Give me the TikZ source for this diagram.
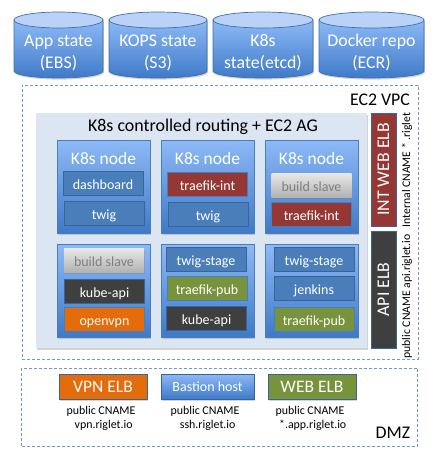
\documentclass[tikz,border=0pt]{standalone}
\usepackage{fontspec}
\setmainfont{Carlito}
\usetikzlibrary{shadows}

\definecolor{cylTop}{HTML}{8DB9F6}
\definecolor{cylBot}{HTML}{3F7AC8}
\definecolor{cylEnd}{HTML}{BAD2F7}
\definecolor{cylEdge}{HTML}{3F6FA8}
\definecolor{dashEdge}{HTML}{6C9BD0}
\definecolor{panelFill}{HTML}{DCE6F2}
\definecolor{blueFill}{HTML}{4A7EBB}
\definecolor{blueEdge}{HTML}{386497}
\definecolor{darkFill}{HTML}{3F3F3F}
\definecolor{redFill}{HTML}{953735}
\definecolor{orangeFill}{HTML}{E46C0A}
\definecolor{greenFill}{HTML}{77933C}

\tikzset{
	softshadow/.style={drop shadow={shadow xshift=0.8pt,shadow yshift=-1.6pt,opacity=0.35}},
	storecyl/.style={draw=cylEdge, line width=0.7pt, top color=cylTop, bottom color=cylBot, softshadow},
	storeend/.style={draw=cylEdge, line width=0.7pt, fill=cylEnd},
	storetext/.style={text=white, font=\fontsize{17.8}{22}\selectfont, align=center},
	zonebox/.style={draw=dashEdge, dash pattern=on 3pt off 2pt, line width=1pt, minimum width=396pt},
	k8sbox/.style={draw=blueFill, line width=0.7pt, minimum width=93pt, minimum height=93pt, top color=cylTop, bottom color=cylBot, softshadow},
	k8stitle/.style={text=white, font=\fontsize{17.5}{20}\selectfont},
	pod/.style={minimum width=80pt, minimum height=24pt, inner sep=0pt, text height=12pt, text depth=0pt, text=white, font=\fontsize{14}{16}\selectfont, line width=0.7pt},
	bluepod/.style={pod, draw=blueEdge, fill=blueFill},
	darkpod/.style={pod, draw=blueEdge, fill=darkFill},
	redpod/.style={pod, draw=blueFill, fill=redFill},
	greenpod/.style={pod, draw=blueFill, fill=greenFill},
	orangepod/.style={pod, draw=blueFill, fill=orangeFill},
	greypod/.style={pod, top color=gray!18, bottom color=gray!60, text=gray, softshadow},
	elbbar/.style={draw=blueEdge, line width=0.7pt, minimum width=113pt, minimum height=25pt, inner sep=0pt, text=white, rotate=90, font=\fontsize{17.8}{20}\selectfont},
	dmzbox/.style={draw=blueEdge, line width=0.7pt, minimum width=88pt, minimum height=25pt, inner sep=0pt, text=white, softshadow, font=\fontsize{17.5}{20}\selectfont},
	cname/.style={font=\fontsize{11.9}{14}\selectfont, align=center, inner sep=0pt},
	sidecname/.style={font=\fontsize{11.7}{13}\selectfont, rotate=90, inner sep=0pt},
	zonetitle/.style={font=\fontsize{17.8}{19}\selectfont, inner sep=0pt}
}

\begin{document}
\begin{tikzpicture}[x=1pt,y=-1pt]
	\useasboundingbox (0,0) rectangle (439,464);

	% storage on top
	\foreach \xa/\xb/\rad in {14/103/44.5,109/207/49,213/313/50,319/424/52.5} {
		\draw[storecyl] (\xa,20) -- (\xa,71) arc[start angle=180, end angle=360, x radius=\rad pt, y radius=7pt] -- (\xb,20) -- cycle;
		\draw[storeend] (\xa,20) arc[start angle=180, end angle=-180, x radius=\rad pt, y radius=8pt];
	}
	\node[storetext] (appT)    at (58.5,53)  {App state\\(EBS)};
	\node[storetext] (kopsT)   at (158,53)   {KOPS state\\(S3)};
	\node[storetext] (etcdT)   at (263,53)   {K8s\\state(etcd)};
	\node[storetext] (dockerT) at (371.5,53) {Docker repo\\(ECR)};

	% vpc
	\node[zonebox, minimum height=274pt] (vpc) at (220,222) {};
	\node[zonetitle] (vpcT) at (380,100) {EC2 VPC};
	\node[fill=panelFill, minimum width=331pt, minimum height=235pt, softshadow] (panel) at (201.5,230.5) {};
	\node[font=\fontsize{17.9}{20}\selectfont, inner sep=0pt] (panelT) at (203,127) {K8s controlled routing + EC2 AG};

	% upper row
	\node[k8sbox] (nodeA) at (103.5,186.5) {};
	\node[k8stitle] (nodeAT) at (103.5,158) {K8s node};
	\node[bluepod] (dash)  at (103,183) {dashboard};
	\node[bluepod] (twigA) at (104,213) {twig};

	\node[k8sbox] (nodeB) at (207.5,186.5) {};
	\node[k8stitle] (nodeBT) at (207.5,158) {K8s node};
	\node[redpod]  (intA)  at (207.5,184.5) {traefik-int};
	\node[bluepod] (twigB) at (208,214) {twig};

	\node[k8sbox] (nodeC) at (311.5,186.5) {};
	\node[k8stitle] (nodeCT) at (311.5,158) {K8s node};
	\node[greypod] (slaveA) at (311.5,185) {build slave};
	\node[redpod]  (intB)   at (311.5,214.5) {traefik-int};

	% lower row
	\node[k8sbox] (nodeD) at (103.5,290.5) {};
	\node[greypod]   (slaveB) at (104,260) {build slave};
	\node[darkpod]   (apiA)   at (104.5,291) {kube-api};
	\node[orangepod] (vpn)    at (104.5,319.5) {openvpn};

	\node[k8sbox] (nodeE) at (207.5,290.5) {};
	\node[bluepod]  (stageA) at (206,259.5) {twig-stage};
	\node[greenpod] (pubA)   at (207,288.5) {traefik-pub};
	\node[darkpod]  (apiB)   at (206.5,318.5) {kube-api};

	\node[k8sbox] (nodeF) at (311.5,290.5) {};
	\node[bluepod]  (stageB)  at (314,259.5) {twig-stage};
	\node[bluepod]  (jenkins) at (314,288) {jenkins};
	\node[greenpod] (pubB)    at (314,319) {traefik-pub};

	% elbs on the side
	\node[elbbar, fill=redFill] (intElb) at (383.5,169.5) {INT WEB ELB};
	\node[elbbar, fill=darkFill, minimum width=117pt] (apiElb) at (383.5,289.5) {API ELB};
	\node[sidecname] (intName) at (407,170) {Internal CNAME * .riglet};
	\node[sidecname] (apiName) at (407,296.5) {public CNAME api.riglet.io};

	% dmz
	\node[zonebox, minimum height=78pt] (dmz) at (219.5,407) {};
	\node[zonetitle] (dmzT) at (393,433) {DMZ};
	\node[dmzbox, fill=orangeFill] (vpnElb) at (103,386.5) {VPN ELB};
	\node[dmzbox, minimum width=93pt, top color=cylTop, bottom color=cylBot, font=\fontsize{14}{17}\selectfont] (bastion) at (207.5,386.5) {Bastion host};
	\node[dmzbox, fill=greenFill] (webElb) at (312,386.5) {WEB ELB};
	\node[cname] (vpnName) at (101,418) {public CNAME\\\ \ vpn.riglet.io};
	\node[cname] (sshName) at (205,418) {public CNAME\\\ \ ssh.riglet.io};
	\node[cname] (webName) at (310,418) {public CNAME\\\ \ *.app.riglet.io};
\end{tikzpicture}
\end{document}
